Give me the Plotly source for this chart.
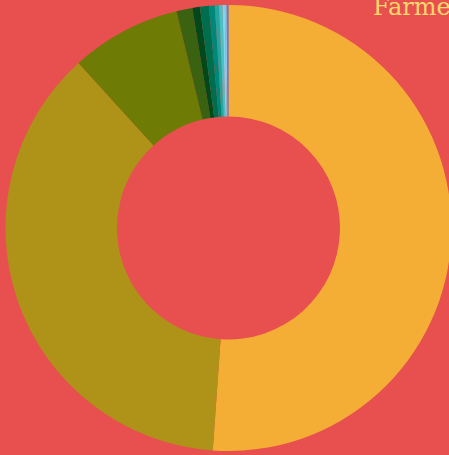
import plotly.graph_objects as go

labels = ["Group A", "Group B", "Group C", "Group D", "Group E", "Group F",
          "Group G", "Group H", "Group I", "Group J", "Group K", "Group L"]
values = [51.15, 37.15, 8.0, 1.15, 0.55, 0.65, 0.42, 0.30, 0.25, 0.17, 0.13, 0.13]
colors = ["#F5AE35", "#AE9318", "#6E7B05", "#3B6210", "#02481A", "#006E4C",
          "#00877A", "#25A59B", "#4CBFC4", "#7DD8EE", "#8EC3F2", "#5A84C3"]
title_text = "Farmers"

W, H = 460, 455
ML, MT = 5, 5
PW, PH = W - ML, H - MT

fig = go.Figure(go.Pie(
    labels=labels,
    values=values,
    hole=0.5,
    sort=False,
    direction="clockwise",
    rotation=0,
    textinfo="none",
    marker=dict(colors=colors, line=dict(width=0)),
    domain=dict(x=[0.5 / PW, 446.5 / PW], y=[4 / PH, 1]),
))

fig.update_layout(
    width=W, height=H,
    margin=dict(l=ML, r=0, t=MT, b=0),
    paper_bgcolor="#E8504F",
    plot_bgcolor="#E8504F",
    showlegend=False,
    annotations=[dict(
        text=title_text, xref="paper", yref="paper",
        x=(371 - ML) / PW, y=1, xanchor="left", yanchor="top",
        yshift=14, showarrow=False,
        font=dict(family="DejaVu Serif", size=24, color="#F7D96A"),
    )],
)

fig.write_html("out.html", config={"displayModeBar": False})

with open("out.html", "r", encoding="utf-8") as f:
    html = f.read()
html = html.replace("<head>", "<head><style>html,body{margin:0;padding:0;background:#E8504F;overflow:hidden;}</style>", 1)
with open("out.html", "w", encoding="utf-8") as f:
    f.write(html)
